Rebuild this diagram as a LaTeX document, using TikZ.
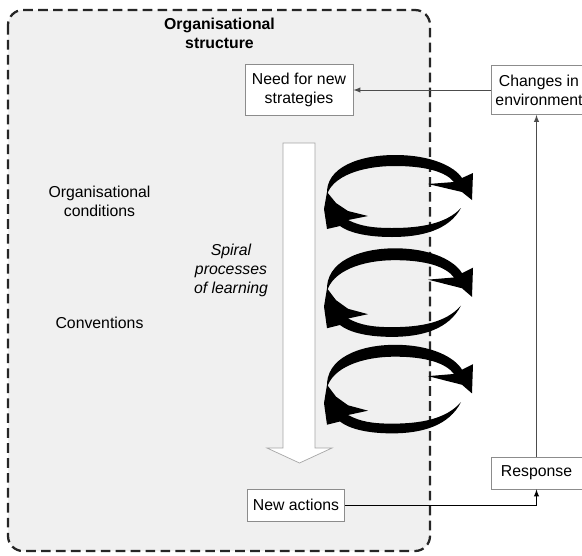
\documentclass[tikz,border=0pt]{standalone}
\usepackage{fontspec}
\setmainfont{Liberation Sans}

\begin{document}
\begin{tikzpicture}[x=0.02cm, y=-0.02cm, >=latex,
	every node/.style={black, font=\fontsize{9}{10.8}\selectfont},
	box/.style={draw=black!45, fill=white, align=center, line width=0.5pt},
	whirl/.pic={
		% upper stroke, head on the right
		\fill (-73,0) .. controls (-75,-28) and (-40,-40) .. (-5,-40) .. controls (32,-40) and (55,-28) .. (62,-17)
			-- (73,-22) -- (72,5) -- (62,-3) -- (28,-11) -- (54,-13)
			.. controls (46,-23) and (26,-29) .. (-5,-29) .. controls (-40,-29) and (-68,-18) .. (-73,0) -- cycle;
		% lower stroke, head on the left
		\fill (61,13) .. controls (49,35) and (22,42) .. (-8,42) .. controls (-35,42) and (-52,37) .. (-60,31)
			-- (-73,34) -- (-76,14) -- (-73,-3) -- (-64,8) -- (-52,16) -- (-32,21) -- (-52,25)
			.. controls (-40,31) and (-28,33) .. (-8,33) .. controls (20,33) and (46,29) .. (61,13) -- cycle;
	}]
	\useasboundingbox (0,0) rectangle (582,555);

	\draw[fill=black!6, draw=black!85, line width=1.3pt, dash pattern=on 5.5pt off 3pt, rounded corners=0.3cm] (8,10) rectangle (430,551);

	\node[align=center, font=\fontsize{9}{10.8}\selectfont\bfseries] (title) at (219.5,33) {Organisational\\structure};
	\node[align=center] (conditions) at (99.5,201) {Organisational\\conditions};
	\node (conventions) at (99.5,323) {Conventions};
	\node[align=center, font=\fontsize{9}{10.8}\selectfont\itshape] (spiral) at (231,270) {Spiral\\processes\\of learning};

	\node[box, minimum width=2.16cm, minimum height=1.02cm] (need) at (299,90) {Need for new\\strategies};
	\node[box, anchor=west, minimum height=0.98cm, inner xsep=2.3pt] (changes) at (491,90) {Changes in\\environment};
	\node[box, minimum width=1.82cm, minimum height=0.64cm] (response) at (536.5,473) {Response};
	\node[box, minimum width=1.92cm, minimum height=0.64cm] (actions) at (296,505) {New actions};

	% hollow arrow down the middle
	\draw[black!35, fill=white] (283,143) -- (315,143) -- (315,448) -- (332,448) -- (299.5,463) -- (267,448) -- (283,448) -- cycle;

	\pic at (400,195) {whirl};
	\pic[yscale=1.08] at (400,291.5) {whirl};
	\pic[yscale=1.08] at (400,388) {whirl};

	\draw[->, black!70] (changes.west) -- (need.east);
	\draw[->, black!70] (response.north) -- (response.north |- changes.south);
	\draw[->] (actions.east) -| (response.south);
\end{tikzpicture}
\end{document}
